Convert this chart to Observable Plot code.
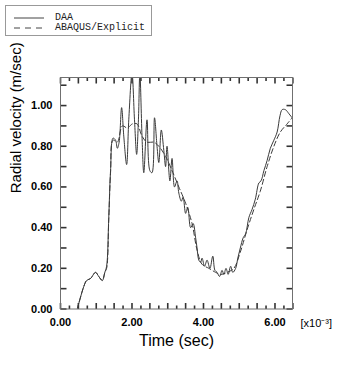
<!DOCTYPE html>
<html>
<head>
<meta charset="utf-8">
<script src="https://cdn.jsdelivr.net/npm/d3@7"></script>
<script src="https://cdn.jsdelivr.net/npm/@observablehq/plot@0.6"></script>
<style>
  body { margin: 0; background: #fff; }
  #wrap { position: relative; width: 349px; height: 383px; }
  #legend { position: absolute; left: 5px; top: 5px; width: 145px; height: 29px; border: 1px solid #999;
            font-family: "Liberation Mono", monospace; font-size: 10px; color: #222; background: #fff; }
  .row { position: absolute; left: 0; height: 11px; }
  .sample { position: absolute; left: 8px; top: 5px; }
  .lab { position: absolute; left: 49px; top: 0px; white-space: nowrap; line-height: 11px; }
</style>
</head>
<body>
<div id="wrap">
  <div id="chart"></div>
  <div id="legend"></div>
</div>
<script>
const seriesNames = ["DAA", "ABAQUS/Explicit"];

// DAA (solid)
const daaT = [0.47,0.65,0.73,0.84,0.98,1.07,1.17,1.24,1.29,1.35,1.40,1.47,1.54,1.59,1.64,1.71,1.77,1.85,1.91,2.00,2.07,2.13,2.18,2.22,2.28,2.33,2.42,2.50,2.56,2.63,2.70,2.75,2.82,2.89,2.94,2.98,3.06,3.12,3.19,3.26,3.31,3.38,3.43,3.50,3.56,3.64,3.71,3.78,3.82,3.87,3.92,3.96,4.03,4.10,4.18,4.26,4.32,4.38,4.45,4.52,4.57,4.63,4.69,4.76,4.82,4.90,4.96,5.03,5.11,5.18,5.27,5.36,5.45,5.55,5.61,5.69,5.78,5.87,5.97,6.06,6.14,6.20,6.29,6.39,6.48];
const daaV = [0.00,0.11,0.14,0.15,0.18,0.16,0.14,0.18,0.21,0.45,0.68,0.84,0.83,0.79,0.82,0.99,0.85,0.71,0.93,1.16,0.93,0.76,0.93,1.16,0.85,0.67,0.93,0.68,0.67,0.94,0.80,0.72,0.88,0.78,0.70,0.80,0.63,0.74,0.60,0.63,0.57,0.53,0.55,0.47,0.50,0.40,0.42,0.35,0.30,0.24,0.23,0.25,0.21,0.24,0.20,0.26,0.19,0.18,0.16,0.19,0.17,0.20,0.17,0.21,0.18,0.20,0.25,0.30,0.35,0.37,0.45,0.49,0.54,0.62,0.63,0.68,0.73,0.79,0.83,0.87,0.95,0.98,0.98,0.96,0.94];

// ABAQUS/Explicit (dashed)
const abqT = [0.47,0.65,0.73,0.84,0.98,1.07,1.17,1.24,1.29,1.35,1.40,1.47,1.59,1.73,1.87,2.01,2.14,2.28,2.42,2.61,2.75,2.94,3.12,3.31,3.50,3.68,3.82,3.96,4.15,4.34,4.48,4.66,4.85,5.03,5.22,5.41,5.59,5.78,5.97,6.15,6.34,6.48];
const abqV = [0.00,0.11,0.14,0.15,0.18,0.16,0.14,0.18,0.20,0.44,0.67,0.83,0.82,0.90,0.89,0.91,0.91,0.85,0.82,0.82,0.80,0.75,0.68,0.60,0.52,0.42,0.29,0.22,0.20,0.18,0.17,0.18,0.20,0.28,0.39,0.49,0.58,0.70,0.80,0.87,0.91,0.94];

const xLabels = [0, 2, 4, 6];
const yLabels = [0, 0.2, 0.4, 0.6, 0.8, 1.0];
const xMinor = d3.range(0, 6.51, 0.25);
const yMinor = d3.range(0, 1.101, 0.1);
const xTitle = ["Time (sec)"];
const yTitle = ["Radial velocity (m/sec)"];
const xScaleNote = ["[x10⁻³]"];

const daa = daaT.map((t, i) => ({t, v: daaV[i]}));
const abq = abqT.map((t, i) => ({t, v: abqV[i]}));

const W = 349, H = 383;
const mt = 77, mb = 74.5, ml = 60, mr = 57;
const xDom = [0, 6.49], yDom = [0, 1.138];
const fh = H - mt - mb, fw = W - ml - mr;
// inward tick lengths (pixels) converted to data units
const dyMaj = 6 * (yDom[1] - yDom[0]) / fh, dyMin = 3.5 * (yDom[1] - yDom[0]) / fh;
const dxLen = 6 * (xDom[1] - xDom[0]) / fw;
const majorX = xMinor.filter(d => Math.abs((d / 0.5) - Math.round(d / 0.5)) < 1e-6);

const tb = xMinor.map(d => ({x: d, y1: yDom[0], y2: yDom[0] + (majorX.includes(d) ? dyMaj : dyMin)}));
const tt = xMinor.map(d => ({x: d, y1: yDom[1], y2: yDom[1] - (majorX.includes(d) ? dyMaj : dyMin)}));
const tl = yMinor.map(d => ({y: d, x1: xDom[0], x2: xDom[0] + dxLen}));
const tr = yMinor.map(d => ({y: d, x1: xDom[1], x2: xDom[1] - dxLen}));

const font = "Liberation Sans, Arial, sans-serif";
const gray = "#707070";

const plot = Plot.plot({
  width: W, height: H,
  marginTop: mt, marginBottom: mb, marginLeft: ml, marginRight: mr,
  style: {fontFamily: font, background: "#fff", color: "#000"},
  x: {domain: xDom},
  y: {domain: yDom},
  marks: [
    Plot.link(tb, {x1: "x", x2: "x", y1: "y1", y2: "y2", stroke: "#333", strokeWidth: 1.6}),
    Plot.link(tt, {x1: "x", x2: "x", y1: "y1", y2: "y2", stroke: "#333", strokeWidth: 1.6}),
    Plot.link(tl, {y1: "y", y2: "y", x1: "x1", x2: "x2", stroke: "#333", strokeWidth: 1.6}),
    Plot.link(tr, {y1: "y", y2: "y", x1: "x1", x2: "x2", stroke: "#333", strokeWidth: 1.6}),
    Plot.line(abq, {x: "t", y: "v", stroke: "#3a3a3a", strokeWidth: 1, strokeDasharray: "5,3", curve: "catmull-rom", clip: true}),
    Plot.line(daa, {x: "t", y: "v", stroke: "#3a3a3a", strokeWidth: 1, curve: "catmull-rom", clip: true}),
    Plot.frame({stroke: gray}),
    Plot.axisX(xLabels, {tickSize: 0, tickPadding: 9, tickFormat: d3.format(".2f"), fontSize: 11, fontWeight: "bold", label: null}),
    Plot.axisY(yLabels, {tickSize: 0, tickPadding: 8, tickFormat: d3.format(".2f"), fontSize: 11, fontWeight: "bold", label: null}),
    Plot.text(xTitle, {frameAnchor: "bottom", lineAnchor: "middle", dy: 32, fontSize: 16}),
    Plot.text(yTitle, {frameAnchor: "left", rotate: -90, dx: -44.5, fontSize: 15}),
    Plot.text(xScaleNote, {frameAnchor: "bottom-right", textAnchor: "start", lineAnchor: "middle", dx: 8, dy: 14, fontSize: 11})
  ]
});
document.getElementById("chart").appendChild(plot);

const legend = document.getElementById("legend");
const ns = "http://www.w3.org/2000/svg";
seriesNames.forEach((name, i) => {
  const row = document.createElement("div");
  row.className = "row";
  row.style.top = (6 + i * 10) + "px";
  const s = document.createElementNS(ns, "svg");
  s.setAttribute("class", "sample");
  s.setAttribute("width", "30"); s.setAttribute("height", "2");
  s.style.top = "5px";
  const ln = document.createElementNS(ns, "line");
  ln.setAttribute("x1", "0"); ln.setAttribute("x2", "30");
  ln.setAttribute("y1", "1"); ln.setAttribute("y2", "1");
  ln.setAttribute("stroke", "#444");
  if (i === 1) ln.setAttribute("stroke-dasharray", "6,5");
  s.appendChild(ln);
  const l = document.createElement("div");
  l.className = "lab";
  l.textContent = name;
  row.appendChild(s); row.appendChild(l);
  legend.appendChild(row);
});
</script>
</body>
</html>
